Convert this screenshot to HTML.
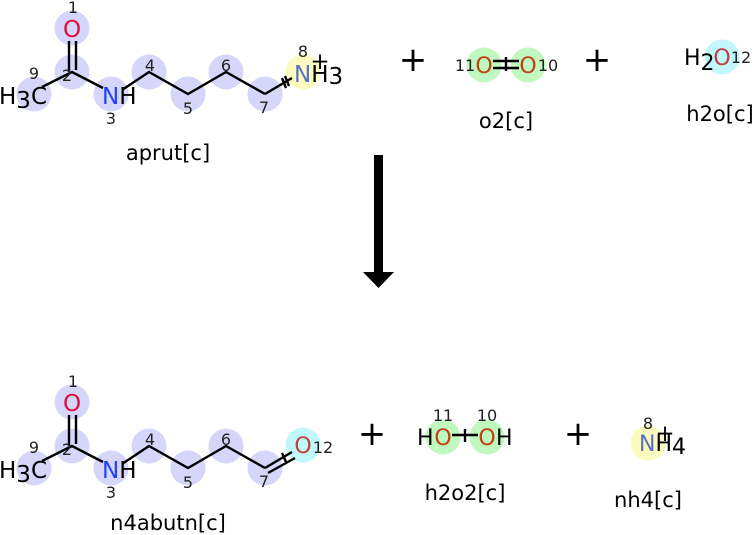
<!DOCTYPE html>
<html><head><meta charset="utf-8"><style>
html,body{margin:0;padding:0;background:#fff;}
svg{display:block;font-family:"DejaVu Sans","Liberation Sans",sans-serif;}
</style></head><body>
<svg width="756" height="535" viewBox="0 0 756 535" xmlns="http://www.w3.org/2000/svg">
<defs>
<g id="chain">
  <g fill="#d6d6fa">
    <circle cx="72" cy="28" r="17.5"/>
    <circle cx="72" cy="72" r="17.5"/>
    <circle cx="34" cy="94" r="17.5"/>
    <circle cx="111" cy="94" r="17.5"/>
    <circle cx="149" cy="72" r="17.5"/>
    <circle cx="188" cy="94" r="17.5"/>
    <circle cx="226" cy="72" r="17.5"/>
    <circle cx="265" cy="94" r="17.5"/>
  </g>
  <g stroke="#000" stroke-width="2.4" fill="none">
    <line x1="69" y1="41" x2="69" y2="72"/>
    <line x1="76" y1="41" x2="76" y2="70"/>
    <polyline points="42,87 72,72 103,88"/>
    <polyline points="122,90 149,72 188,94 226,72 265,94"/>
  </g>
  <text x="72" y="37" font-size="23" fill="#e0103a" text-anchor="middle">O</text>
  <text x="-1" y="104" font-size="23" fill="#000">H<tspan dy="4">3</tspan><tspan dy="-4">C</tspan></text>
  <text x="102" y="104" font-size="23" fill="#2040ff">N<tspan fill="#000">H</tspan></text>
  <g font-size="16" fill="#222" text-anchor="middle">
    <text x="73" y="13">1</text>
    <text x="34" y="79">9</text>
    <text x="67" y="81">2</text>
    <text x="111" y="124">3</text>
    <text x="150" y="71">4</text>
    <text x="188" y="114">5</text>
    <text x="226" y="71">6</text>
    <text x="264" y="113">7</text>
  </g>
</g>
</defs>

<use href="#chain"/>
<circle cx="303" cy="72" r="17.5" fill="#fcfcc0"/>
<g stroke="#000" stroke-width="2.4">
  <line x1="265" y1="94" x2="292" y2="78"/>
  <line x1="282" y1="78" x2="286" y2="88"/>
  <line x1="285" y1="76" x2="289" y2="86"/>
</g>
<text x="294" y="82" font-size="23" fill="#5a70c0">N<tspan fill="#000">H</tspan><tspan fill="#000" dy="2">3</tspan></text>
<text x="303" y="57" font-size="16" fill="#222" text-anchor="middle">8</text>
<text x="320" y="69" font-size="23" fill="#000" text-anchor="middle">+</text>
<text x="168" y="160" font-size="21" fill="#000" text-anchor="middle">aprut[c]</text>

<text x="413" y="71" font-size="34" fill="#000" text-anchor="middle">+</text>
<circle cx="484" cy="65" r="17.5" fill="#c0f8c0"/>
<circle cx="528" cy="65" r="17.5" fill="#c0f8c0"/>
<g stroke="#000" stroke-width="2.4">
  <line x1="493" y1="61" x2="519" y2="61"/>
  <line x1="493" y1="68" x2="519" y2="68"/>
  <line x1="506" y1="57" x2="506" y2="71"/>
</g>
<text x="484" y="73" font-size="22" fill="#c04010" text-anchor="middle">O</text>
<text x="528" y="73" font-size="22" fill="#c04010" text-anchor="middle">O</text>
<text x="465" y="71" font-size="16" fill="#222" text-anchor="middle">11</text>
<text x="548" y="71" font-size="16" fill="#222" text-anchor="middle">10</text>
<text x="506" y="128" font-size="21" fill="#000" text-anchor="middle">o2[c]</text>

<text x="597" y="71" font-size="34" fill="#000" text-anchor="middle">+</text>
<circle cx="722" cy="57" r="17.5" fill="#c0f8fc"/>
<text x="684" y="65" font-size="22" fill="#000">H<tspan dy="5">2</tspan></text>
<text x="722" y="65" font-size="22" fill="#c04040" text-anchor="middle">O</text>
<text x="741" y="63" font-size="16" fill="#222" text-anchor="middle">12</text>
<text x="720" y="121" font-size="21" fill="#000" text-anchor="middle">h2o[c]</text>

<rect x="374" y="155" width="9" height="120" fill="#000"/>
<polygon points="363,272 394,272 378.5,288" fill="#000"/>

<use href="#chain" transform="translate(0,374)"/>
<circle cx="303" cy="445" r="17.5" fill="#c0f8fc"/>
<g stroke="#000" stroke-width="2.4">
  <line x1="265" y1="468" x2="292" y2="452"/>
  <line x1="268" y1="473" x2="295" y2="458"/>
  <line x1="282" y1="453" x2="286" y2="462"/>
</g>
<text x="303" y="453" font-size="22" fill="#c04040" text-anchor="middle">O</text>
<text x="323" y="453" font-size="16" fill="#222" text-anchor="middle">12</text>
<text x="168" y="530" font-size="21" fill="#000" text-anchor="middle">n4abutn[c]</text>

<text x="372" y="445" font-size="34" fill="#000" text-anchor="middle">+</text>
<circle cx="443" cy="437" r="17.5" fill="#c0f8c0"/>
<circle cx="487" cy="437" r="17.5" fill="#c0f8c0"/>
<g stroke="#000" stroke-width="2.4">
  <line x1="452" y1="435" x2="478" y2="435"/>
  <line x1="465" y1="429" x2="465" y2="442"/>
</g>
<text x="417" y="445" font-size="22" fill="#000">H</text>
<text x="443" y="445" font-size="22" fill="#c04010" text-anchor="middle">O</text>
<text x="487" y="445" font-size="22" fill="#c04010" text-anchor="middle">O</text>
<text x="496" y="445" font-size="22" fill="#000">H</text>
<text x="443" y="421" font-size="16" fill="#222" text-anchor="middle">11</text>
<text x="487" y="421" font-size="16" fill="#222" text-anchor="middle">10</text>
<text x="465" y="500" font-size="21" fill="#000" text-anchor="middle">h2o2[c]</text>

<text x="578" y="445" font-size="34" fill="#000" text-anchor="middle">+</text>
<circle cx="648" cy="443" r="17.5" fill="#fcfcc0"/>
<text x="639" y="451" font-size="22" fill="#5a70c0">N<tspan fill="#000">H</tspan><tspan fill="#000" dy="3">4</tspan></text>
<text x="648" y="429" font-size="16" fill="#222" text-anchor="middle">8</text>
<text x="665" y="441" font-size="23" fill="#000" text-anchor="middle">+</text>
<text x="648" y="507" font-size="21" fill="#000" text-anchor="middle">nh4[c]</text>
</svg>
</body></html>
